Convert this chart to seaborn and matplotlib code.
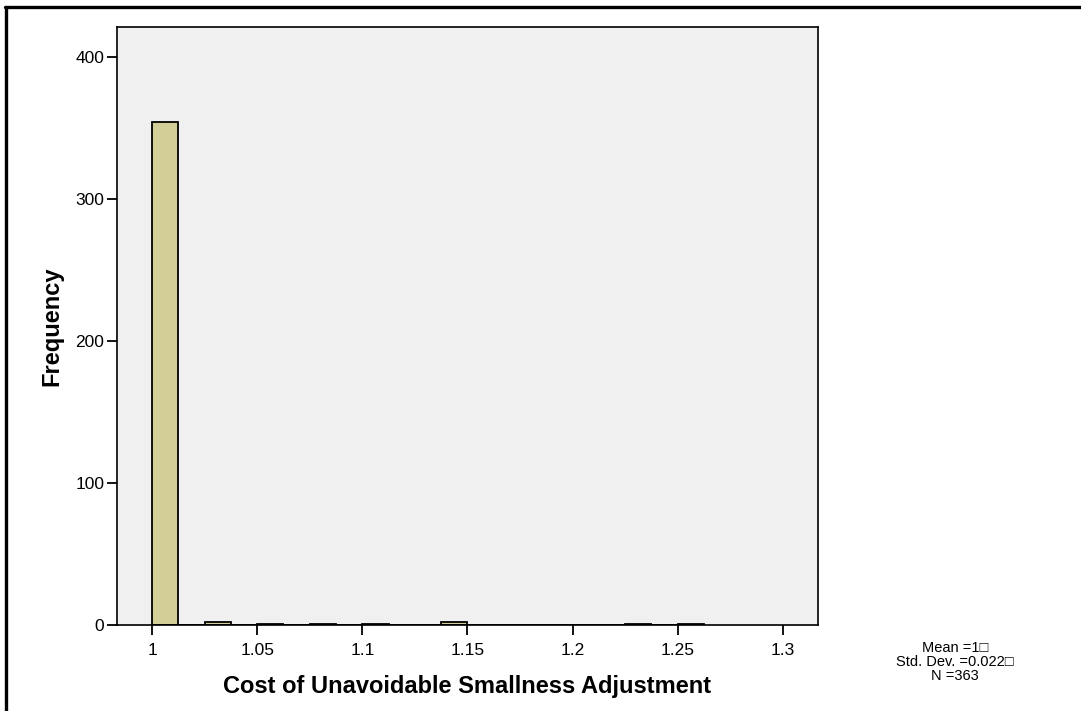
import numpy as np
import pandas as pd
import matplotlib
matplotlib.use('Agg')
import matplotlib.pyplot as plt
from matplotlib.lines import Line2D
import seaborn as sns

# histogram bins (left edge of each non-empty bin, width 0.0125)
bin_left = [1.0, 1.025, 1.05, 1.075, 1.1, 1.1375, 1.225, 1.25]
counts = [354, 2, 1, 1, 1, 2, 1, 1]
bin_width = 0.0125
x_ticks = [1, 1.05, 1.1, 1.15, 1.2, 1.25, 1.3]
x_tick_labels = ['1', '1.05', '1.1', '1.15', '1.2', '1.25', '1.3']
y_ticks = [0, 100, 200, 300, 400]
stats_text = ['Mean =1\u25a1', 'Std. Dev. =0.022\u25a1', 'N =363']

sns.set_style('white')
plt.rcParams['font.family'] = ['Liberation Sans', 'DejaVu Sans']
plt.rcParams['text.color'] = 'black'
plt.rcParams['axes.labelcolor'] = 'black'
plt.rcParams['xtick.color'] = 'black'
plt.rcParams['ytick.color'] = 'black'

df = pd.DataFrame({'value': np.array(bin_left) + bin_width / 2, 'count': counts})

fig = plt.figure(figsize=(10.81, 7.11), dpi=100)
ax = fig.add_axes([0.1082, 0.121, 0.6485, 0.841])
ax.set_facecolor('#f0f0f0')

sns.histplot(data=df, x='value', weights='count', binwidth=bin_width,
             binrange=(1.0, 1.0 + 21 * bin_width), color='#d3ce97',
             edgecolor='black', linewidth=1.3, alpha=1, ax=ax)

ax.set_xlim(0.9833, 1.3167)
ax.set_ylim(0, 421)
ax.set_xticks(x_ticks)
ax.set_xticklabels(x_tick_labels)
ax.set_yticks(y_ticks)
ax.tick_params(axis='both', direction='out', length=7, width=1.3, color='black',
               labelcolor='black', labelsize=12.5, bottom=True, left=True)
ax.tick_params(axis='x', pad=6)
ax.tick_params(axis='y', pad=2)
for s in ax.spines.values():
    s.set_color('black')
    s.set_linewidth(1.2)

ax.set_xlabel('Cost of Unavoidable Smallness Adjustment', fontsize=17, fontweight='bold', labelpad=12)
ax.set_ylabel('Frequency', fontsize=17, fontweight='bold', labelpad=9)

for i, t in enumerate(stats_text):
    fig.text(955 / 1081, 1 - (648 + 14 * i) / 711, t, ha='center', va='center', fontsize=10.5)

# outer frame (top and left edges visible)
fig.add_artist(Line2D([4.5 / 1081, 1], [1 - 6.5 / 711, 1 - 6.5 / 711], color='black', lw=2.4,
                      transform=fig.transFigure))
fig.add_artist(Line2D([5.5 / 1081, 5.5 / 1081], [0, 1 - 6.5 / 711], color='black', lw=2.4,
                      transform=fig.transFigure))

fig.savefig('out.png', dpi=100)
